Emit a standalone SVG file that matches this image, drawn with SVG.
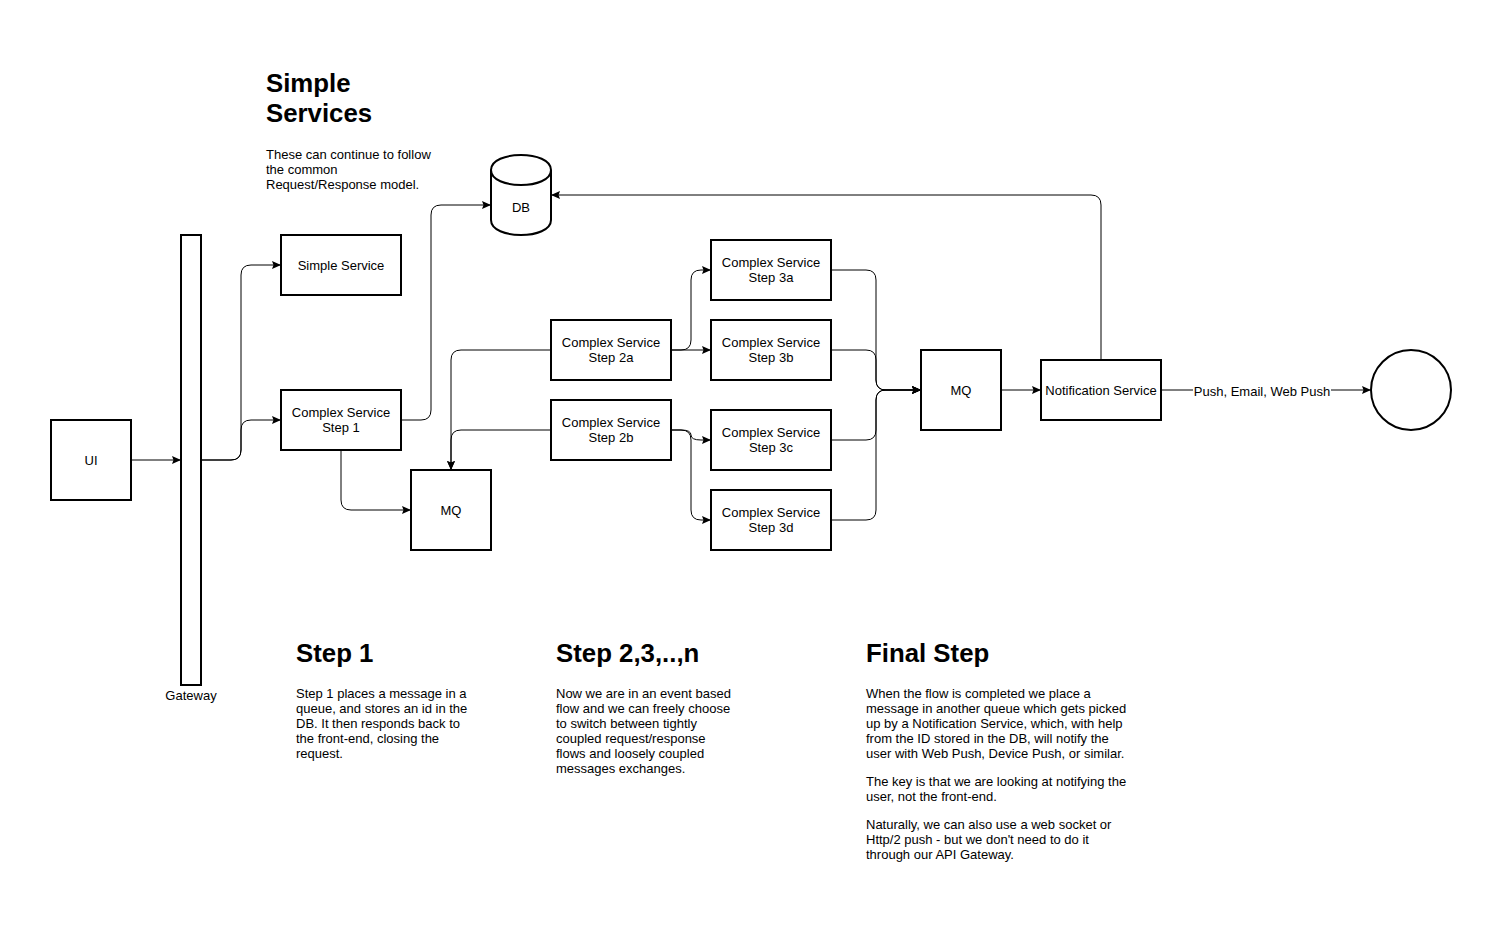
<svg xmlns="http://www.w3.org/2000/svg" width="1502" height="931" viewBox="0 0 1502 931">
<style>
.n{fill:#fff;stroke:#000;stroke-width:2}
.t{font-family:"Liberation Sans",Arial,Helvetica,sans-serif;font-size:13px;fill:#000}
.c{text-anchor:middle}
.h{font-family:"Liberation Sans",Arial,Helvetica,sans-serif;font-size:25.8px;font-weight:bold;fill:#000}
.e{fill:none;stroke:#000;stroke-width:1;marker-end:url(#a)}
</style>
<defs>
<marker id="a" markerUnits="userSpaceOnUse" markerWidth="10" markerHeight="9" refX="9" refY="4" orient="auto">
<path d="M0,0 L9,4 L0,8 L1.5,4 Z" fill="#000"/>
</marker>
</defs>
<rect width="1502" height="931" fill="#fff"/>

<g id="connectors">
<path class="e" d="M131,460 H181"/>
<path class="e" d="M201,460 H231 Q241,460 241,450 V275 Q241,265 251,265 H281"/>
<path class="e" d="M201,460 H231 Q241,460 241,450 V430 Q241,420 251,420 H281"/>
<path class="e" d="M401,420 H421 Q431,420 431,410 V215 Q431,205 441,205 H491"/>
<path class="e" d="M341,450 V500 Q341,510 351,510 H411"/>
<path class="e" d="M551,350 H461 Q451,350 451,360 V470"/>
<path class="e" d="M551,430 H461 Q451,430 451,440 V470"/>
<path class="e" d="M671,350 H681 Q691,350 691,340 V280 Q691,270 701,270 H711"/>
<path class="e" d="M671,350 H711"/>
<path class="e" d="M671,430 H681 Q691,430 691,435 Q691,440 701,440 H711"/>
<path class="e" d="M671,430 H681 Q691,430 691,440 V510 Q691,520 701,520 H711"/>
<path class="e" d="M831,270 H866 Q876,270 876,280 V380 Q876,390 886,390 H921"/>
<path class="e" d="M831,350 H866 Q876,350 876,360 V380 Q876,390 886,390 H921"/>
<path class="e" d="M831,440 H866 Q876,440 876,430 V400 Q876,390 886,390 H921"/>
<path class="e" d="M831,520 H866 Q876,520 876,510 V400 Q876,390 886,390 H921"/>
<path class="e" d="M1001,390 H1041"/>
<path class="e" d="M1101,360 V205 Q1101,195 1091,195 H551"/>
<path class="e" d="M1161,390 H1371"/>
<rect x="1193" y="382" width="138" height="16" fill="#fff"/>
<text class="t c" x="1262" y="395.5">Push, Email, Web Push</text>
</g>

<g id="ui"><rect class="n" x="51" y="420" width="80" height="80"/><text class="t c" x="91" y="464.5">UI</text></g>
<g id="gateway"><rect class="n" x="181" y="235" width="20" height="450"/><text class="t c" x="191" y="699.5">Gateway</text></g>
<g id="simple-service"><rect class="n" x="281" y="235" width="120" height="60"/><text class="t c" x="341" y="269.5">Simple Service</text></g>
<g id="step1"><rect class="n" x="281" y="390" width="120" height="60"/><text class="t c" x="341" y="417">Complex Service</text><text class="t c" x="341" y="432">Step 1</text></g>
<g id="db"><path class="n" d="M491,170 C491,150 551,150 551,170 V220 C551,240 491,240 491,220 Z"/><path d="M491,170 C491,190 551,190 551,170" fill="none" stroke="#000" stroke-width="2"/><text class="t c" x="521" y="212">DB</text></g>
<g id="mq1"><rect class="n" x="411" y="470" width="80" height="80"/><text class="t c" x="451" y="514.5">MQ</text></g>
<g id="step2a"><rect class="n" x="551" y="320" width="120" height="60"/><text class="t c" x="611" y="347">Complex Service</text><text class="t c" x="611" y="362">Step 2a</text></g>
<g id="step2b"><rect class="n" x="551" y="400" width="120" height="60"/><text class="t c" x="611" y="427">Complex Service</text><text class="t c" x="611" y="442">Step 2b</text></g>
<g id="step3a"><rect class="n" x="711" y="240" width="120" height="60"/><text class="t c" x="771" y="267">Complex Service</text><text class="t c" x="771" y="282">Step 3a</text></g>
<g id="step3b"><rect class="n" x="711" y="320" width="120" height="60"/><text class="t c" x="771" y="347">Complex Service</text><text class="t c" x="771" y="362">Step 3b</text></g>
<g id="step3c"><rect class="n" x="711" y="410" width="120" height="60"/><text class="t c" x="771" y="437">Complex Service</text><text class="t c" x="771" y="452">Step 3c</text></g>
<g id="step3d"><rect class="n" x="711" y="490" width="120" height="60"/><text class="t c" x="771" y="517">Complex Service</text><text class="t c" x="771" y="532">Step 3d</text></g>
<g id="mq2"><rect class="n" x="921" y="350" width="80" height="80"/><text class="t c" x="961" y="394.5">MQ</text></g>
<g id="notification"><rect class="n" x="1041" y="360" width="120" height="60"/><text class="t c" x="1101" y="394.5">Notification Service</text></g>
<g id="user"><circle class="n" cx="1411" cy="390" r="40"/></g>

<g id="simple-services-note">
<text class="h" x="266" y="91.5">Simple</text>
<text class="h" x="266" y="122">Services</text>
<text class="t" x="266" y="158.5">These can continue to follow</text>
<text class="t" x="266" y="173.5">the common</text>
<text class="t" x="266" y="188.5">Request/Response model.</text>
</g>
<g id="step1-note">
<text class="h" x="296" y="661.5">Step 1</text>
<text class="t" x="296" y="697.5">Step 1 places a message in a</text>
<text class="t" x="296" y="712.5">queue, and stores an id in the</text>
<text class="t" x="296" y="727.5">DB. It then responds back to</text>
<text class="t" x="296" y="742.5">the front-end, closing the</text>
<text class="t" x="296" y="757.5">request.</text>
</g>
<g id="step2-note">
<text class="h" x="556" y="661.5">Step 2,3,..,n</text>
<text class="t" x="556" y="697.5">Now we are in an event based</text>
<text class="t" x="556" y="712.5">flow and we can freely choose</text>
<text class="t" x="556" y="727.5">to switch between tightly</text>
<text class="t" x="556" y="742.5">coupled request/response</text>
<text class="t" x="556" y="757.5">flows and loosely coupled</text>
<text class="t" x="556" y="772.5">messages exchanges.</text>
</g>
<g id="final-note">
<text class="h" x="866" y="661.5">Final Step</text>
<text class="t" x="866" y="697.5">When the flow is completed we place a</text>
<text class="t" x="866" y="712.5">message in another queue which gets picked</text>
<text class="t" x="866" y="727.5">up by a Notification Service, which, with help</text>
<text class="t" x="866" y="742.5">from the ID stored in the DB, will notify the</text>
<text class="t" x="866" y="757.5">user with Web Push, Device Push, or similar.</text>
<text class="t" x="866" y="785.5">The key is that we are looking at notifying the</text>
<text class="t" x="866" y="800.5">user, not the front-end.</text>
<text class="t" x="866" y="828.5">Naturally, we can also use a web socket or</text>
<text class="t" x="866" y="843.5">Http/2 push - but we don't need to do it</text>
<text class="t" x="866" y="858.5">through our API Gateway.</text>
</g>
</svg>
